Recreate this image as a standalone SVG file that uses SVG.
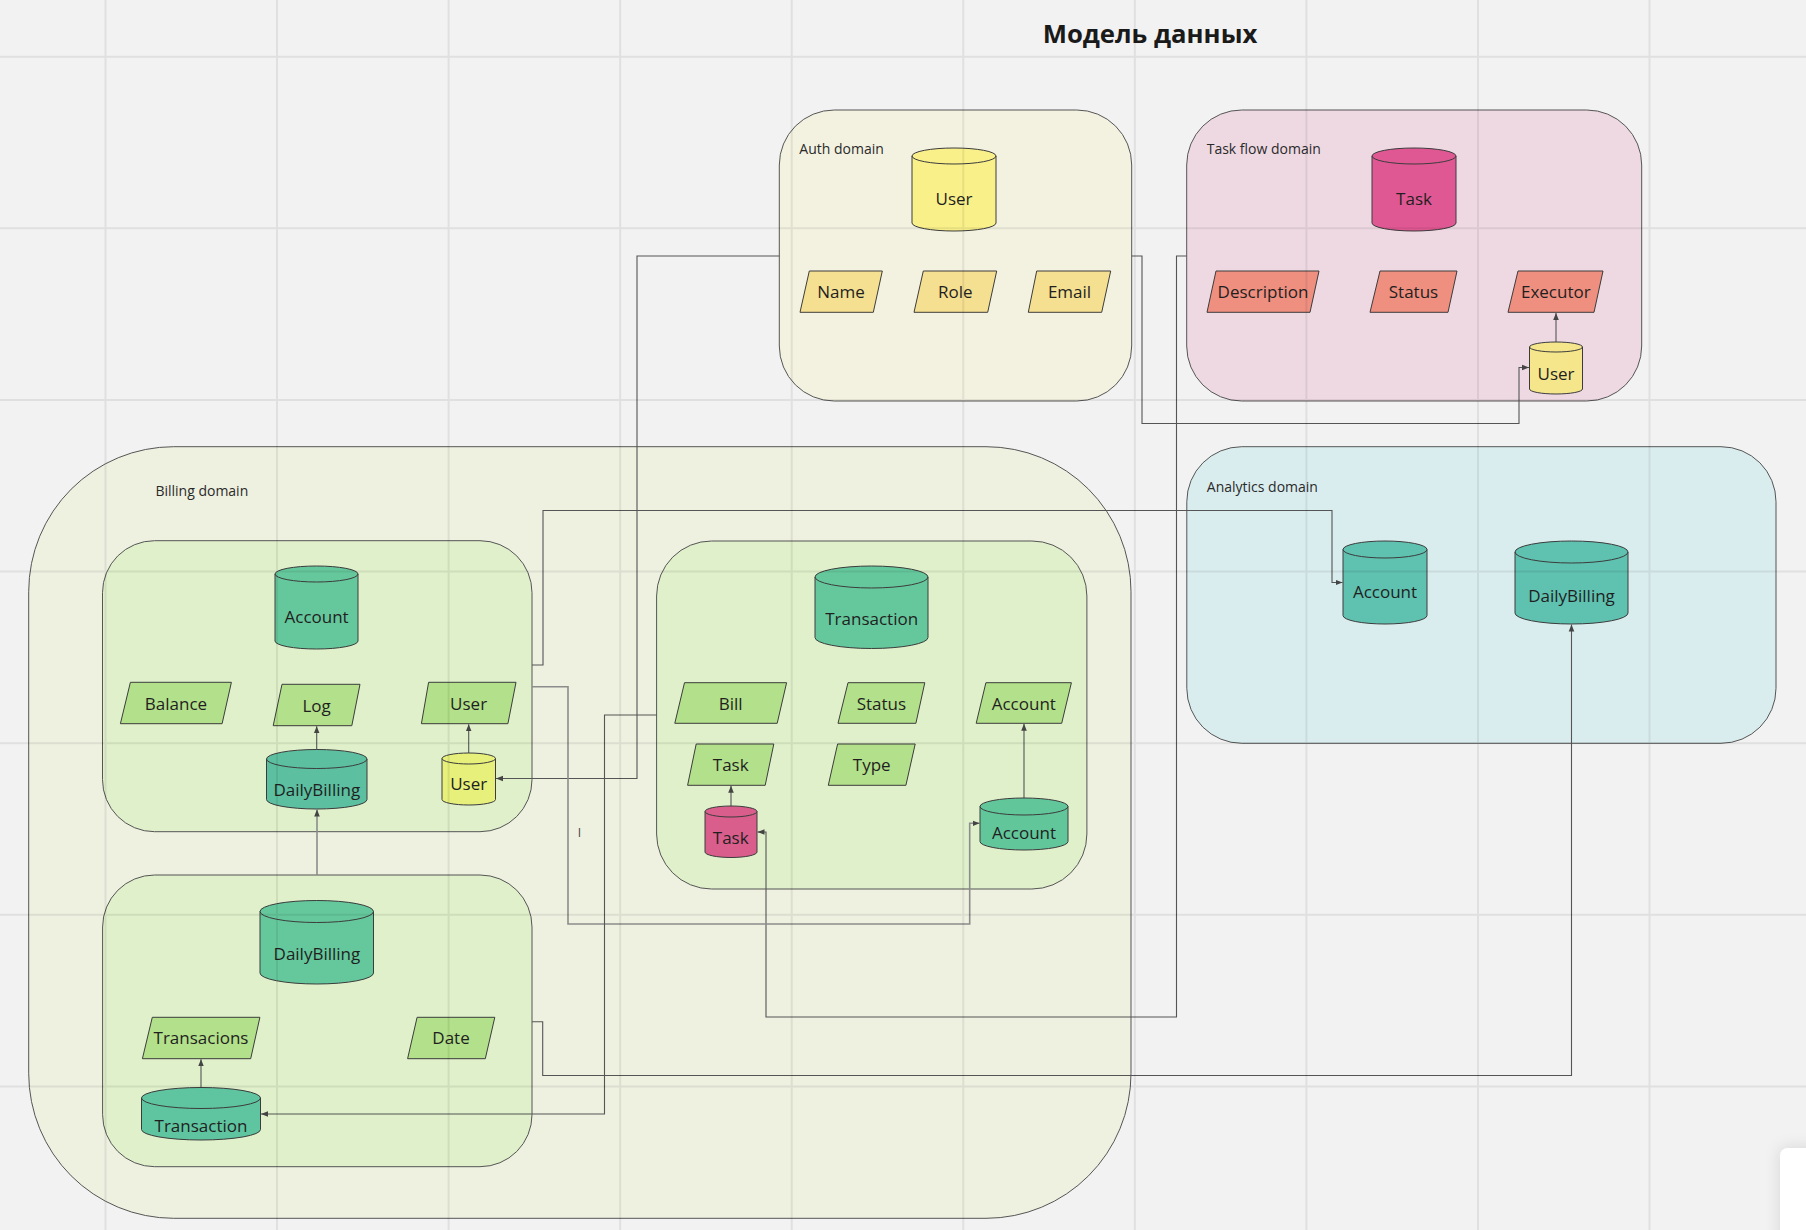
<svg xmlns="http://www.w3.org/2000/svg" width="1806" height="1230" viewBox="0 0 1806 1230">
<style>
.dom{stroke:#555;stroke-width:1}
.nd{stroke:#3c3c3c;stroke-width:1;stroke-linejoin:round}
.rim{fill:none;stroke:#3c3c3c;stroke-width:1}
.c{fill:none;stroke:#555;stroke-width:1.1;marker-end:url(#ah)}
.cl{fill:none;stroke:#8c8c8c;stroke-width:1.6;marker-end:url(#ah)}
.n{font-family:'Open Sans','Noto Sans',sans-serif;font-size:17px;fill:#1f1f1f;text-anchor:middle}
.d{font-family:'Open Sans','Noto Sans',sans-serif;font-size:14px;fill:#2a2a2a}
.g{stroke:#000;stroke-opacity:0.075;stroke-width:2}
.pY{fill:#f5df91}.pR{fill:#ee8f80}.pG{fill:#b3e08a}
</style>
<defs>
<marker id="ah" viewBox="0 0 10 10" refX="10" refY="5" markerWidth="7" markerHeight="7" markerUnits="userSpaceOnUse" orient="auto"><path d="M0,1 L10,5 L0,9 z" fill="#444"/></marker>
<filter id="sh" x="-50%" y="-50%" width="200%" height="200%"><feDropShadow dx="0" dy="0" stdDeviation="8" flood-color="#000" flood-opacity="0.12"/></filter>
</defs>
<rect x="0" y="0" width="1806" height="1230" fill="#f2f2f2"/>
<text x="1150" y="43" font-family="'Open Sans','Noto Sans',sans-serif" font-size="25.7" font-weight="700" fill="#1a1a1a" text-anchor="middle">Модель данных</text>

<g id="domains">
<g id="auth-domain"><rect class="dom" x="779.3" y="110" width="352.4" height="291" rx="55" fill="#f3f2e1"/><text class="d" x="799.3" y="154">Auth domain</text></g>
<g id="taskflow-domain"><rect class="dom" x="1186.7" y="110" width="455" height="291" rx="55" fill="#eed9e2"/><text class="d" x="1206.7" y="154">Task flow domain</text></g>
<g id="billing-domain"><rect class="dom" x="28.7" y="446.7" width="1102.3" height="771.6" rx="145" fill="#eef0e0"/><text class="d" x="155.4" y="496">Billing domain</text></g>
<g id="analytics-domain"><rect class="dom" x="1186.8" y="446.7" width="589.2" height="296.6" rx="55" fill="#daedee"/><text class="d" x="1206.8" y="491.7">Analytics domain</text></g>
<g id="billing-account-box"><rect class="dom" x="102.5" y="540.7" width="429.5" height="291" rx="52" fill="#dff0cb"/></g>
<g id="billing-transaction-box"><rect class="dom" x="656.6" y="541" width="430.3" height="348" rx="55" fill="#dff0cb"/></g>
<g id="billing-dailybilling-box"><rect class="dom" x="102.6" y="875" width="429.4" height="291.7" rx="52" fill="#dff0cb"/></g>
</g>

<g id="connectors">
<path class="c" d="M1131.7,256 H1142 V423.5 H1519 V367.5 H1529"/>
<path class="c" d="M1186.7,256 H1176.5 V1017 H766 V832 H757.5"/>
<path class="c" d="M779.3,256 H637 V778.5 H496"/>
<path class="c" d="M532,665 H543 V510.5 H1332 V582.5 H1342.5"/>
<path class="cl" d="M532,686.7 H568 V924 H969.7 V823.3 H979.5"/>
<path class="c" d="M656.6,715 H604.5 V1114 H261"/>
<path class="c" d="M532,1021.7 H542.7 V1075.5 H1571.5 V624.5"/>
<path class="cl" d="M317,875 V809.5"/>
<path class="c" d="M1556,342 V313"/>
<path class="c" d="M316.7,749.5 V726.2"/>
<path class="c" d="M468.7,753 V724.2"/>
<path class="c" d="M731,806 V785.8"/>
<path class="c" d="M1024,798 V723.8"/>
<path class="c" d="M201,1087.5 V1059.2"/>
</g>
<text x="579.5" y="837" font-family="'Open Sans',sans-serif" font-size="12" fill="#444" text-anchor="middle">I</text>

<g id="auth-user"><path class="nd" fill="#f9f08a" d="M912,156 V223 A42,8 0 0 0 996,223 V156 A42,8 0 0 0 912,156 Z"/><path class="rim" d="M912,156 A42,8 0 0 0 996,156"/><text class="n" x="954" y="205">User</text></g>
<g id="auth-name"><polygon class="nd pY" points="809.3,271 882.3,271 873.3,312.3 800,312.3"/><text class="n" x="841" y="298">Name</text></g>
<g id="auth-role"><polygon class="nd pY" points="923.3,271 996.7,271 987.7,312.3 914,312.3"/><text class="n" x="955.4" y="298">Role</text></g>
<g id="auth-email"><polygon class="nd pY" points="1036.7,271 1110.7,271 1101.7,312.3 1028.3,312.3"/><text class="n" x="1069.5" y="298">Email</text></g>

<g id="tf-task"><path class="nd" fill="#e05893" d="M1372,156 V223 A42,8 0 0 0 1456,223 V156 A42,8 0 0 0 1372,156 Z"/><path class="rim" d="M1372,156 A42,8 0 0 0 1456,156"/><text class="n" x="1414" y="205">Task</text></g>
<g id="tf-description"><polygon class="nd pR" points="1216,271 1319,271 1310,312.3 1207,312.3"/><text class="n" x="1263" y="298">Description</text></g>
<g id="tf-status"><polygon class="nd pR" points="1380,271 1457,271 1448,312.3 1370,312.3"/><text class="n" x="1413.5" y="298">Status</text></g>
<g id="tf-executor"><polygon class="nd pR" points="1518,271 1603,271 1594,312.3 1508,312.3"/><text class="n" x="1555.8" y="298">Executor</text></g>
<g id="tf-user"><path class="nd" fill="#f5e68c" d="M1529.5,347 V389 A26.5,5 0 0 0 1582.5,389 V347 A26.5,5 0 0 0 1529.5,347 Z"/><path class="rim" d="M1529.5,347 A26.5,5 0 0 0 1582.5,347"/><text class="n" x="1556" y="380">User</text></g>

<g id="b-account"><path class="nd" fill="#65c89c" d="M275,574 V641 A41.5,8 0 0 0 358,641 V574 A41.5,8 0 0 0 275,574 Z"/><path class="rim" d="M275,574 A41.5,8 0 0 0 358,574"/><text class="n" x="316.6" y="622.7">Account</text></g>
<g id="b-balance"><polygon class="nd pG" points="130.4,682.3 231.4,682.3 222.1,723.7 120.4,723.7"/><text class="n" x="176" y="709.5">Balance</text></g>
<g id="b-log"><polygon class="nd pG" points="282,684.3 360,684.3 351.8,725.7 273.2,725.7"/><text class="n" x="316.6" y="711.5">Log</text></g>
<g id="b-user-field"><polygon class="nd pG" points="428.6,682.3 516,682.3 507.9,723.7 421.4,723.7"/><text class="n" x="468.6" y="709.5">User</text></g>
<g id="b-dailybilling"><path class="nd" fill="#5cc0a0" d="M266.5,759 V799.5 A50.25,9.5 0 0 0 367,799.5 V759 A50.25,9.5 0 0 0 266.5,759 Z"/><path class="rim" d="M266.5,759 A50.25,9.5 0 0 0 367,759"/><text class="n" x="316.8" y="796">DailyBilling</text></g>
<g id="b-user"><path class="nd" fill="#e6f07a" d="M442,758.5 V799.5 A26.75,5.5 0 0 0 495.5,799.5 V758.5 A26.75,5.5 0 0 0 442,758.5 Z"/><path class="rim" d="M442,758.5 A26.75,5.5 0 0 0 495.5,758.5"/><text class="n" x="468.7" y="790">User</text></g>

<g id="t-transaction"><path class="nd" fill="#65c89c" d="M815,577 V637.5 A56.5,11 0 0 0 928,637.5 V577 A56.5,11 0 0 0 815,577 Z"/><path class="rim" d="M815,577 A56.5,11 0 0 0 928,577"/><text class="n" x="871.7" y="625">Transaction</text></g>
<g id="t-bill"><polygon class="nd pG" points="684.5,682.7 786.6,682.7 777.2,723.3 674.8,723.3"/><text class="n" x="730.7" y="709.5">Bill</text></g>
<g id="t-status"><polygon class="nd pG" points="848,682.7 924.8,682.7 915.9,723.3 838,723.3"/><text class="n" x="881.4" y="709.5">Status</text></g>
<g id="t-account-field"><polygon class="nd pG" points="985.9,682.7 1071.4,682.7 1061.7,723.3 976.2,723.3"/><text class="n" x="1023.8" y="709.5">Account</text></g>
<g id="t-task-field"><polygon class="nd pG" points="696.2,744 773.8,744 765.2,785.3 687.6,785.3"/><text class="n" x="730.7" y="771">Task</text></g>
<g id="t-type"><polygon class="nd pG" points="837.6,744 915.2,744 905.9,785.3 828.3,785.3"/><text class="n" x="871.7" y="771">Type</text></g>
<g id="t-task"><path class="nd" fill="#d95e8b" d="M705,811.5 V852 A26,5.5 0 0 0 757,852 V811.5 A26,5.5 0 0 0 705,811.5 Z"/><path class="rim" d="M705,811.5 A26,5.5 0 0 0 757,811.5"/><text class="n" x="730.7" y="844.3">Task</text></g>
<g id="t-account"><path class="nd" fill="#62c69b" d="M980,806.5 V841.5 A44,8.5 0 0 0 1068,841.5 V806.5 A44,8.5 0 0 0 980,806.5 Z"/><path class="rim" d="M980,806.5 A44,8.5 0 0 0 1068,806.5"/><text class="n" x="1024" y="839.3">Account</text></g>

<g id="d-dailybilling"><path class="nd" fill="#65c89c" d="M260,911.5 V973 A56.75,11 0 0 0 373.5,973 V911.5 A56.75,11 0 0 0 260,911.5 Z"/><path class="rim" d="M260,911.5 A56.75,11 0 0 0 373.5,911.5"/><text class="n" x="316.9" y="960">DailyBilling</text></g>
<g id="d-transacions"><polygon class="nd pG" points="152.3,1017.3 259.9,1017.3 250.7,1058.7 142.4,1058.7"/><text class="n" x="201" y="1044">Transacions</text></g>
<g id="d-date"><polygon class="nd pG" points="417.1,1017.3 494.8,1017.3 485.3,1058.7 407.6,1058.7"/><text class="n" x="451" y="1044">Date</text></g>
<g id="d-transaction"><path class="nd" fill="#5fc4a0" d="M141.5,1098 V1129.5 A59.5,10.5 0 0 0 260.5,1129.5 V1098 A59.5,10.5 0 0 0 141.5,1098 Z"/><path class="rim" d="M141.5,1098 A59.5,10.5 0 0 0 260.5,1098"/><text class="n" x="201" y="1131.5">Transaction</text></g>

<g id="a-account"><path class="nd" fill="#5fc1b0" d="M1343,549.5 V615.5 A42,8.5 0 0 0 1427,615.5 V549.5 A42,8.5 0 0 0 1343,549.5 Z"/><path class="rim" d="M1343,549.5 A42,8.5 0 0 0 1427,549.5"/><text class="n" x="1385" y="597.7">Account</text></g>
<g id="a-dailybilling"><path class="nd" fill="#5fc1b0" d="M1515,552 V613 A56.5,11 0 0 0 1628,613 V552 A56.5,11 0 0 0 1515,552 Z"/><path class="rim" d="M1515,552 A56.5,11 0 0 0 1628,552"/><text class="n" x="1571.5" y="601.7">DailyBilling</text></g>

<g id="grid">
<path class="g" d="M105.5,0 V1230 M277,0 V1230 M448.6,0 V1230 M620.2,0 V1230 M791.7,0 V1230 M963.3,0 V1230 M1134.8,0 V1230 M1306.4,0 V1230 M1478,0 V1230 M1649.5,0 V1230 M0,56.7 H1806 M0,228.3 H1806 M0,400 H1806 M0,571.6 H1806 M0,743.2 H1806 M0,914.8 H1806 M0,1086.4 H1806"/>
</g>
<rect x="1780" y="1148" width="60" height="110" rx="8" fill="#ffffff" filter="url(#sh)"/>
</svg>
